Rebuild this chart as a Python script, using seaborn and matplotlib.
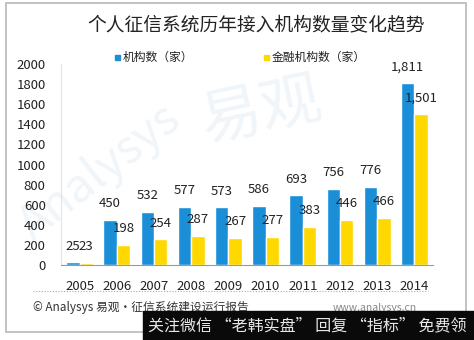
import matplotlib
matplotlib.use("Agg")
import matplotlib.pyplot as plt
import matplotlib.patches as mpatches
import matplotlib.lines as mlines
import seaborn as sns
import pandas as pd

# Data
years = ["2005", "2006", "2007", "2008", "2009", "2010", "2011", "2012", "2013", "2014"]
institutions = [25, 450, 532, 577, 573, 586, 693, 756, 776, 1811]
financial = [23, 198, 254, 287, 267, 277, 383, 446, 466, 1501]
series_names = ["机构数（家）", "金融机构数（家）"]
yticks = [0, 200, 400, 600, 800, 1000, 1200, 1400, 1600, 1800, 2000]
title = "个人征信系统历年接入机构数量变化趋势"
source = "© Analysys 易观·征信系统建设运行报告"
site = "www.analysys.cn"
banner = "关注微信 “老韩实盘” 回复 “指标” 免费领"

BLUE = "#1a8ed6"
YELLOW = "#ffd800"

df = pd.DataFrame({
    "year": years * 2,
    "value": institutions + financial,
    "series": [series_names[0]] * len(years) + [series_names[1]] * len(years),
})

sns.set_theme(style="white")
plt.rcParams["font.family"] = ["Noto Sans CJK SC", "DejaVu Sans"]

W, H = 474, 340
fig = plt.figure(figsize=(W / 100, H / 100), dpi=100)
fig.patch.set_facecolor("white")


def fx(x):
    return x / W


def fy(y):
    return 1 - y / H


# outer frame
fig.add_artist(mpatches.Rectangle((fx(6), fy(332)), fx(460), (332 - 3) / H,
                                  transform=fig.transFigure, fill=False,
                                  edgecolor="#b8b8b8", linewidth=1.2, zorder=0))

# faint background watermark
fig.text(fx(100), fy(172), "Analysys", fontsize=34, color="#f0f5fa",
         rotation=38, ha="center", va="center", zorder=-1)
fig.text(fx(262), fy(112), "易观", fontsize=44, color="#f0f5fa",
         rotation=12, ha="center", va="center", zorder=-1)

ax = fig.add_axes([fx(61), fy(265), fx(433) - fx(61), (265 - 64) / H])
ax.set_facecolor("none")
ax.set_zorder(2)

sns.barplot(data=df, x="year", y="value", hue="series",
            palette=[BLUE, YELLOW], width=0.72, saturation=1,
            ax=ax, legend=False)

for container in ax.containers:
    labels = [f"{int(round(b.get_height())):,}" for b in container]
    ax.bar_label(container, labels=labels, padding=7, fontsize=9.5,
                 color="#222222")

ax.set_ylim(0, 2000)
ax.set_xlim(-0.5, 9.5)
ax.set_yticks(yticks)
ax.set_xlabel("")
ax.set_ylabel("")
ax.tick_params(axis="y", length=0, pad=11, labelsize=9.5, labelcolor="#222222")
ax.tick_params(axis="x", length=0, pad=11, labelsize=9.5, labelcolor="#222222")
for side in ["top", "right"]:
    ax.spines[side].set_visible(False)
ax.spines["left"].set_color("#e4e4e4")
ax.spines["left"].set_linewidth(0.8)
ax.spines["bottom"].set_color("#9a9a9a")
ax.spines["bottom"].set_linewidth(0.8)

# title
fig.text(fx(256), fy(25), title, fontsize=13.5, ha="center", va="center",
         color="#222222")

# legend
fig.add_artist(mpatches.Rectangle((fx(115), fy(60)), fx(5), 5 / H,
                                  transform=fig.transFigure, color=BLUE))
fig.text(fx(123), fy(57.5), series_names[0], fontsize=8.5, ha="left",
         va="center", color="#222222")
fig.add_artist(mpatches.Rectangle((fx(264), fy(60)), fx(5), 5 / H,
                                  transform=fig.transFigure, color=YELLOW))
fig.text(fx(272), fy(57.5), series_names[1], fontsize=8.5, ha="left",
         va="center", color="#222222")

# dotted separator and footer
fig.add_artist(mlines.Line2D([fx(33), fx(428)], [fy(291), fy(291)],
                             transform=fig.transFigure, color="#aaaaaa",
                             linestyle=(0, (1, 1.5)), linewidth=0.8))
fig.text(fx(33), fy(307), source, fontsize=8.5, ha="left", va="center",
         color="#333333")
fig.text(fx(333), fy(308), site, fontsize=7.5, ha="left", va="center",
         color="#888888")

# black banner overlay
fig.add_artist(mpatches.Rectangle((fx(143), 0), 1 - fx(143), (H - 311) / H,
                                  transform=fig.transFigure, color="#0a0a0a",
                                  zorder=5))
fig.text(fx(307), fy(325.5), banner, fontsize=11.5, ha="center", va="center",
         color="#e8e8e8", zorder=6)

fig.savefig("out.png", dpi=100, facecolor="white")
